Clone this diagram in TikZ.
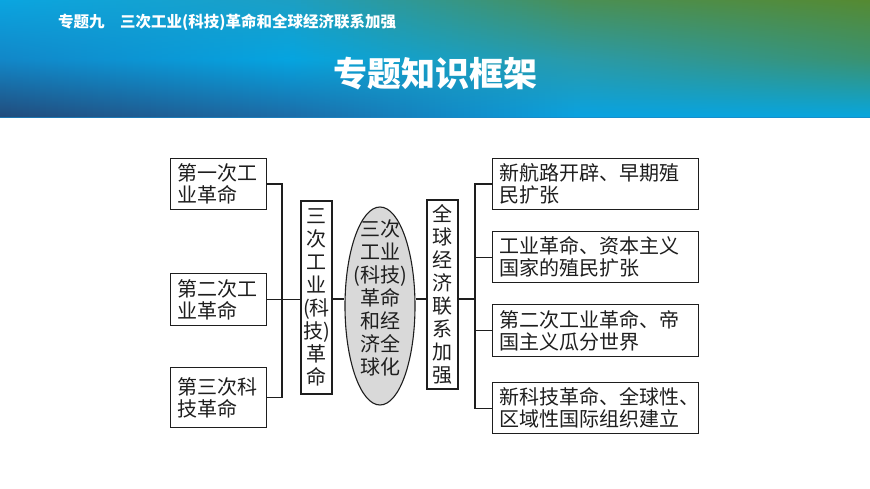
\documentclass[tikz,border=0pt]{standalone}
\usepackage{fontspec}
\setmainfont{Noto Sans CJK SC}
\usetikzlibrary{shapes.geometric}
\definecolor{T0}{HTML}{0AA5E0}
\definecolor{T1}{HTML}{1C9FC4}
\definecolor{T2}{HTML}{4A8F55}
\definecolor{T3}{HTML}{558A32}
\definecolor{M0}{HTML}{1287C8}
\definecolor{M1}{HTML}{05A4E0}
\definecolor{M2}{HTML}{2A9AA8}
\definecolor{M3}{HTML}{3A9270}
\definecolor{B0}{HTML}{224A7A}
\definecolor{B1}{HTML}{1D6AA5}
\definecolor{B2}{HTML}{08A2E2}
\definecolor{B3}{HTML}{06A6E0}
\definecolor{hdrline}{HTML}{1C86C4}
\definecolor{linec}{HTML}{1E1E1E}
\definecolor{ellgray}{HTML}{D9D9D9}
\newcommand\myboxfont{\fontsize{20}{22}\selectfont}
\newcommand\myvfont{\fontsize{20}{23}\selectfont}
\begin{document}
\begin{tikzpicture}[x=1pt,y=-1pt,
  box/.style={draw=linec, line width=1.1pt, fill=white, inner xsep=7pt, inner ysep=0pt,
    align=left, font=\myboxfont, text=linec, anchor=north west},
  vbox/.style={draw=linec, line width=1.1pt, fill=white, inner sep=0pt,
    align=center, font=\myvfont, text=linec},
  conn/.style={draw=linec, line width=1.1pt}]
\useasboundingbox (0,0) rectangle (870,489);
\fill[white] (0,0) rectangle (870,489);
% header gradient: columns with vertical shadings
\begin{scope}
\clip (0,0) rectangle (870,118);
\foreach \k/\Ta/\Tb/\Ma/\Mb/\Ba/\Bb in {0/T0/T1/M0/M1/B0/B1, 1/T1/T2/M1/M2/B1/B2, 2/T2/T3/M2/M3/B2/B3} {
  \foreach \j in {0,...,49} {
    \pgfmathsetmacro\xa{\k*290+\j*5.8}
    \pgfmathsetmacro\xb{\xa+6.4}
    \pgfmathtruncatemacro\pc{100-(\j+0.5)*2}
    \shade[top color=\Ta!\pc!\Tb, bottom color=\Ba!\pc!\Bb, middle color=\Ma!\pc!\Mb] (\xa,0) rectangle (\xb,118);
  }
}
\draw[hdrline, line width=1pt, opacity=0.7] (0,117.5) -- (870,117.5);
\end{scope}
\node[anchor=west, text=white, inner sep=0pt, font=\fontsize{15.5}{18}\selectfont\bfseries] (sub) at (58,22) {专题九　三次工业(科技)革命和全球经济联系加强};
\node[text=white, inner sep=0pt, font=\fontsize{34}{40}\selectfont\bfseries] (ttl) at (435,74) {专题知识框架};

% left boxes
\node[box, text width=82pt, minimum height=51pt] (b1) at (170,158) {第一次工\\业革命};
\node[box, text width=82pt, minimum height=52pt] (b2) at (170,273) {第二次工\\业革命};
\node[box, text width=82pt, minimum height=60pt] (b3) at (170,367) {第三次科\\技革命};

% vertical boxes and ellipse
\node[vbox, minimum width=31pt, minimum height=193pt] (v1) at (316.5,297.5) {三\\次\\工\\业\\(科\\技)\\革\\命};
\node[ellipse, draw=linec, line width=1.1pt, fill=ellgray, minimum width=70pt, minimum height=198pt, inner sep=0pt] (el) at (380,306) {};
\node[align=center, inner sep=0pt, font=\myvfont, text=linec] (elt) at (380,298) {三次\\工业\\(科技)\\革命\\和经\\济全\\球化};
\node[vbox, minimum width=31pt, minimum height=189pt] (v2) at (442.5,294.5) {全\\球\\经\\济\\联\\系\\加\\强};

% right boxes
\node[box, text width=192pt, minimum height=51pt] (r1) at (492,158) {新航路开辟、早期殖\\民扩张};
\node[box, text width=192pt, minimum height=51pt] (r2) at (492,231) {工业革命、资本主义\\国家的殖民扩张};
\node[box, text width=192pt, minimum height=52pt] (r3) at (492,304) {第二次工业革命、帝\\国主义瓜分世界};
\node[box, text width=192pt, minimum height=51pt] (r4) at (492,382) {新科技革命、全球性、\\区域性国际组织建立};

% connectors
\coordinate (jl) at (282,299);
\coordinate (jr) at (475,299);
\draw[conn] (b1.east) -| (jl) |- (b3.east);
\draw[conn] (b2.east) -- (b2.east -| v1.west);
\draw[conn] (v1.east |- jl) -- (el.west |- jl);
\draw[conn] (el.east |- jl) -- (v2.west |- jl);
\draw[conn] (v2.east |- jl) -- (jr);
\draw[conn] (r1.west) -| (jr) |- (r4.west);
\draw[conn] (r2.west) -- (r2.west -| jr);
\draw[conn] (r3.west) -- (r3.west -| jr);
\end{tikzpicture}
\end{document}
